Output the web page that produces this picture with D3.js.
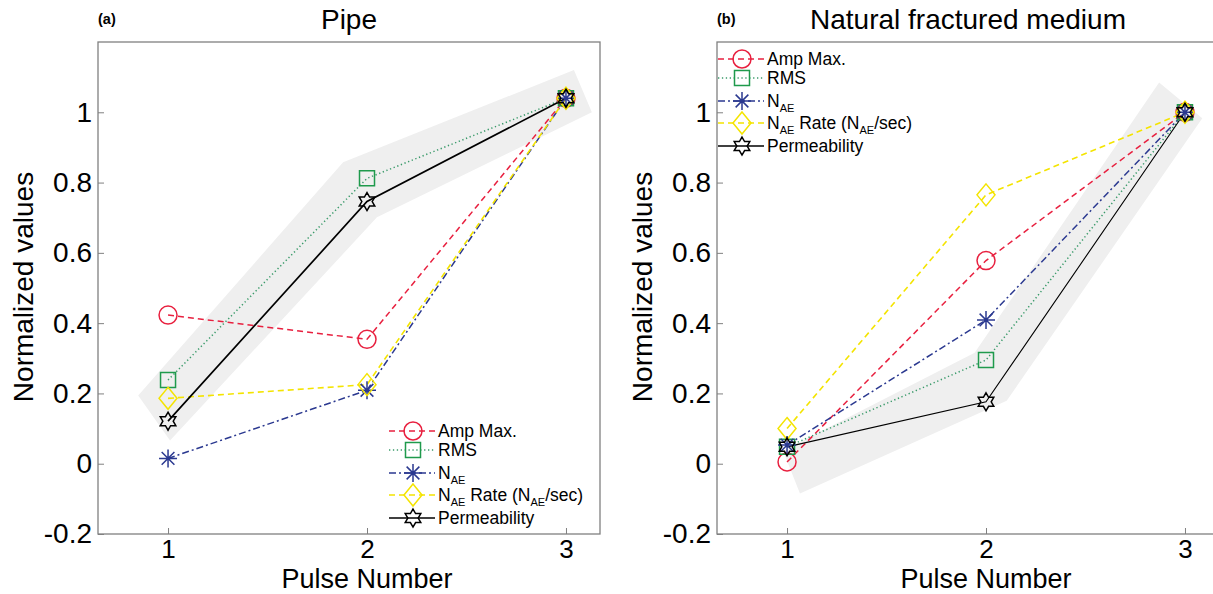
<!DOCTYPE html>
<html><head><meta charset="utf-8">
<script src="https://cdn.jsdelivr.net/npm/d3@7"></script>
<style>
body{margin:0;background:#fff}
svg{display:block}
text{font-family:"Liberation Sans",Arial,sans-serif;fill:#000}
</style>
</head><body>
<svg id="c" width="1213" height="594"></svg>
<script>
// ---------------- data ----------------
const pulses = [1, 2, 3];
const xTicks = [1, 2, 3];
const xTickLabels = ["1", "2", "3"];
const yTicks = [-0.2, 0, 0.2, 0.4, 0.6, 0.8, 1];
const yTickLabels = ["-0.2", "0", "0.2", "0.4", "0.6", "0.8", "1"];
const seriesLabels = ["Amp Max.", "RMS", "N_{AE}", "N_{AE} Rate (N_{AE}/sec)", "Permeability"];
const panelTitles = ["Pipe", "Natural fractured medium"];
const panelTags = ["(a)", "(b)"];
const xLabel = "Pulse Number";
const yLabel = "Normalized values";

// (a) Pipe
const pipeAmp  = [0.423, 0.354, 1.04];
const pipeRMS  = [0.238, 0.812, 1.04];
const pipeNAE  = [0.015, 0.209, 1.04];
const pipeRate = [0.186, 0.225, 1.04];
const pipePerm = [0.121, 0.746, 1.04];
// (b) Natural fractured medium
const natAmp  = [0.005, 0.578, 1.0];
const natRMS  = [0.048, 0.295, 1.0];
const natNAE  = [0.053, 0.409, 1.0];
const natRate = [0.100, 0.765, 1.0];
const natPerm = [0.048, 0.176, 1.0];

// grey shaded bands (polygon vertices, data units)
const pipeBand = [[0.85, 0.194], [1.88, 0.858], [3.04, 1.12], [3.13, 1.0], [2.05, 0.701], [1.01, 0.066]];
const natBand  = [[0.98, 0.037], [1.943, 0.316], [2.87, 1.085], [3.087, 0.983], [2.104, 0.179], [1.065, -0.085]];

// ---------------- styles ----------------
const styles = [
  {color: "#e8203f", dash: "6,4",      marker: "circle",   width: 1.5},
  {color: "#3a9a6a", dash: "1.3,2.6",  marker: "square",   width: 1.5, markerColor: "#1f9a4c"},
  {color: "#2b3990", dash: "7,3,2,3",  marker: "asterisk", width: 1.5},
  {color: "#f4e400", dash: "6,4",      marker: "diamond",  width: 1.6},
  {color: "#000000", dash: null,       marker: "hexagram", width: 1.6}
];

const svg = d3.select("#c");
const FONT = 28;

function markerPath(type) {
  const p = d3.path();
  if (type === "circle") {
    p.moveTo(9, 0); p.arc(0, 0, 9, 0, 2 * Math.PI);
  } else if (type === "square") {
    p.rect(-7.5, -7.5, 15, 15);
  } else if (type === "diamond") {
    p.moveTo(0, -11); p.lineTo(9, 0); p.lineTo(0, 11); p.lineTo(-9, 0); p.closePath();
  } else if (type === "asterisk") {
    const r = 9;
    for (let k = 0; k < 4; k++) {
      const a = k * Math.PI / 4;
      p.moveTo(-r * Math.cos(a), -r * Math.sin(a));
      p.lineTo(r * Math.cos(a), r * Math.sin(a));
    }
  } else if (type === "hexagram") {
    const R = 9, ri = R / Math.sqrt(3);
    for (let k = 0; k < 12; k++) {
      const a = -Math.PI / 2 + k * Math.PI / 6;
      const rr = k % 2 === 0 ? R : ri;
      const x = rr * Math.cos(a), y = rr * Math.sin(a);
      if (k === 0) p.moveTo(x, y); else p.lineTo(x, y);
    }
    p.closePath();
  }
  return p.toString();
}

function richText(sel, label, baseSize, subSize) {
  const parts = label.split(/_\{([^}]*)\}/);
  parts.forEach((t, i) => {
    if (t === "") return;
    const isSub = i % 2 === 1;
    const ts = sel.append("tspan").text(t);
    if (isSub) ts.attr("font-size", subSize).attr("dy", 5);
    else if (i > 0) ts.attr("dy", -5);
  });
}

function drawPanel(opt) {
  const x = d3.scaleLinear().domain([0.648, 3.171]).range([opt.left, opt.left + 502]);
  const y = d3.scaleLinear().domain([-0.2, 1.2]).range([534, 42]);
  const g = svg.append("g");

  // band
  g.append("path")
    .attr("d", d3.line().x(d => x(d[0])).y(d => y(d[1]))(opt.band) + "Z")
    .attr("fill", "#efefef");

  // axes ticks + labels
  const ya = d3.axisLeft(y).tickValues(yTicks).tickFormat((d, i) => yTickLabels[i])
    .tickSizeInner(-6).tickSizeOuter(0).tickPadding(6);
  const gy = g.append("g").attr("transform", `translate(${opt.left},0)`).call(ya);
  const xa = d3.axisBottom(x).tickValues(xTicks).tickFormat((d, i) => xTickLabels[i])
    .tickSizeInner(-6).tickSizeOuter(0).tickPadding(6);
  const gx = g.append("g").attr("transform", `translate(0,534)`).call(xa);
  [gx, gy].forEach(a => {
    a.select(".domain").remove();
    a.selectAll("line").attr("stroke", "#808080").attr("stroke-width", 1);
    a.selectAll("text").attr("fill", "#000")
      .style("font-family", '"Liberation Sans",Arial,sans-serif');
  });
  gy.selectAll("text").attr("font-size", FONT);
  gx.selectAll("text").attr("font-size", 26);

  // series
  opt.series.forEach((vals, si) => {
    const st = styles[si];
    const pts = pulses.map((p, i) => [x(p), y(vals[i])]);
    g.append("path").attr("d", d3.line()(pts)).attr("fill", "none")
      .attr("stroke", st.color).attr("stroke-width", si === 4 ? opt.permWidth : st.width)
      .attr("stroke-dasharray", st.dash);
  });
  opt.series.forEach((vals, si) => {
    const st = styles[si];
    pulses.forEach((p, i) => {
      g.append("path").attr("d", markerPath(st.marker))
        .attr("transform", `translate(${x(p)},${y(vals[i])})`)
        .attr("fill", "none").attr("stroke", st.markerColor || st.color)
        .attr("stroke-width", 1.5).attr("stroke-linejoin", "miter");
    });
  });

  // box
  g.append("rect").attr("x", opt.left).attr("y", 42).attr("width", 502).attr("height", 492)
    .attr("fill", "none").attr("stroke", "#808080").attr("stroke-width", 1.3);

  // legend
  const lg = g.append("g").attr("transform", `translate(${opt.legX},${opt.legY})`);
  const rowY = [0, 19, 42, 64, 87];
  seriesLabels.forEach((lab, si) => {
    const st = styles[si];
    const r = lg.append("g").attr("transform", `translate(0,${rowY[si]})`);
    r.append("line").attr("x1", 0).attr("x2", 46).attr("y1", 0).attr("y2", 0)
      .attr("stroke", st.color).attr("stroke-width", si === 4 ? 1.5 : st.width)
      .attr("stroke-dasharray", st.dash);
    r.append("path").attr("d", markerPath(st.marker)).attr("transform", "translate(24,0)")
      .attr("fill", "none").attr("stroke", st.markerColor || st.color).attr("stroke-width", 1.5);
    const t = r.append("text").attr("x", 49).attr("y", 6).attr("font-size", 17.5);
    richText(t, lab, 17.5, 11);
  });

  // title and tag
  g.append("text").attr("x", opt.left + 251).attr("y", 29).attr("text-anchor", "middle")
    .attr("font-size", FONT).text(opt.title);
  g.append("text").attr("x", opt.left).attr("y", 24).attr("font-size", 14.5)
    .attr("font-weight", "bold").text(opt.tag);

  // axis labels
  g.append("text").attr("x", x(2)).attr("y", 588).attr("text-anchor", "middle")
    .attr("font-size", 27).text(xLabel);
  g.append("text").attr("transform", `translate(${opt.left - 65},287) rotate(-90)`)
    .attr("text-anchor", "middle").attr("font-size", FONT).text(yLabel);
}

drawPanel({left: 98, title: panelTitles[0], tag: panelTags[0], band: pipeBand,
  series: [pipeAmp, pipeRMS, pipeNAE, pipeRate, pipePerm], legX: 389, legY: 431, permWidth: 1.7});
drawPanel({left: 717, title: panelTitles[1], tag: panelTags[1], band: natBand,
  series: [natAmp, natRMS, natNAE, natRate, natPerm], legX: 718, legY: 59, permWidth: 1.1});
</script>
</body></html>
